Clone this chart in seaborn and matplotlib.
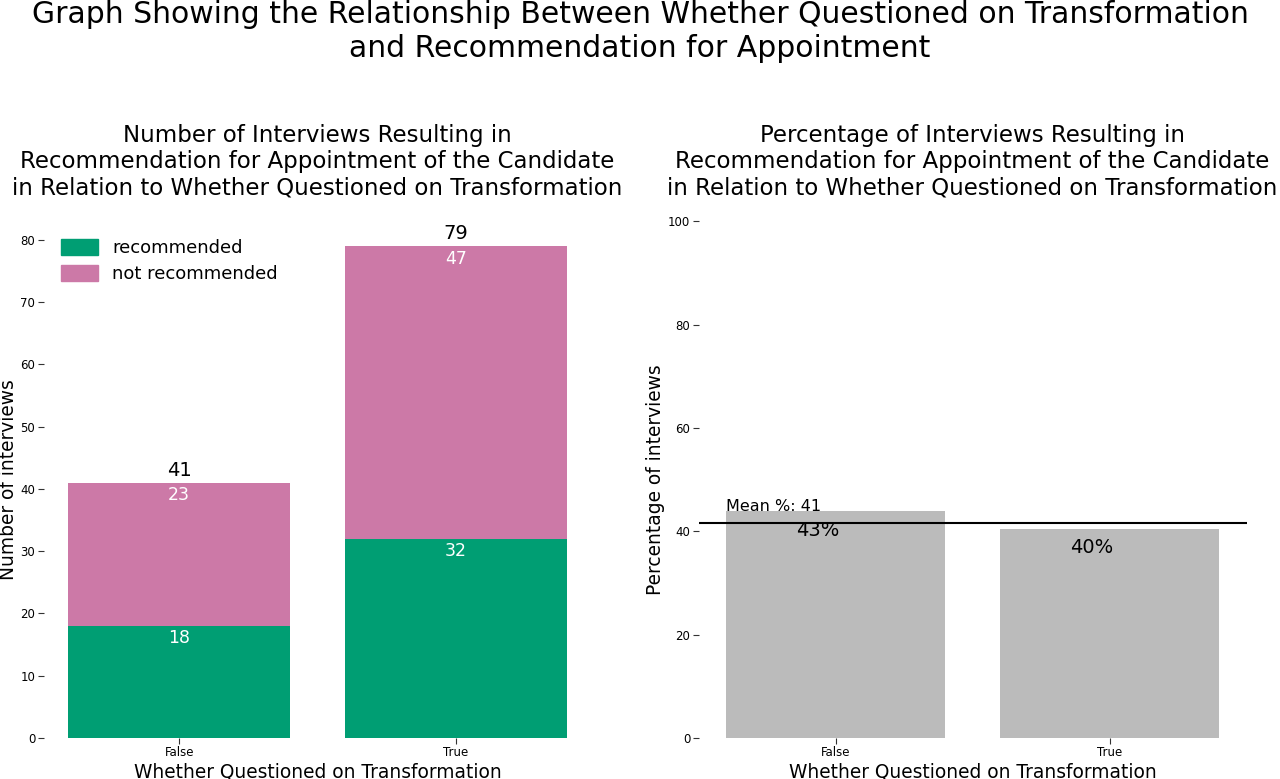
import numpy as np
import pandas as pd
import seaborn as sns
import matplotlib.pyplot as plt
from matplotlib.patches import Patch

categories = ["False", "True"]
recommended = [18, 32]
not_recommended = [23, 47]

GREEN = "#009E73"
PINK = "#CC79A7"
GREY = "#BBBBBB"

totals = [r + n for r, n in zip(recommended, not_recommended)]
pct = [100.0 * r / t for r, t in zip(recommended, totals)]
mean_pct = 100.0 * sum(recommended) / sum(totals)

df = pd.DataFrame({"questioned": categories, "recommended": recommended,
                   "total": totals, "pct": pct})

sns.set_style("white")
plt.rcParams["font.family"] = ["DejaVu Sans"]
plt.rcParams["text.color"] = "black"
plt.rcParams["axes.labelcolor"] = "black"
plt.rcParams["xtick.color"] = "black"
plt.rcParams["ytick.color"] = "black"

fig, (ax1, ax2) = plt.subplots(1, 2, figsize=(12.8, 7.79), dpi=100)
fig.subplots_adjust(left=0.034, right=0.974, bottom=0.0526, top=0.716, wspace=0.195)

# left: stacked counts
sns.barplot(data=df, x="questioned", y="total", color=PINK, saturation=1, linewidth=0, ax=ax1)
sns.barplot(data=df, x="questioned", y="recommended", color=GREEN, saturation=1, linewidth=0, ax=ax1)
for i, (r, n, t) in enumerate(zip(recommended, not_recommended, totals)):
    ax1.text(i, t + 2, str(t), ha="center", va="center", fontsize=14)
    ax1.text(i, t - 2, str(n), ha="center", va="center", fontsize=12.5, color="white")
    ax1.text(i, r - 2, str(r), ha="center", va="center", fontsize=12.5, color="white")
ax1.set_ylim(0, 83)
ax1.set_xlim(-0.49, 1.49)
ax1.legend(handles=[Patch(color=GREEN, label="recommended"),
                    Patch(color=PINK, label="not recommended")],
           loc="upper left", frameon=False, fontsize=13, bbox_to_anchor=(0.003, 0.998),
           handleheight=1.0, labelspacing=0.45)
ax1.set_title("Number of Interviews Resulting in\nRecommendation for Appointment of the Candidate\n"
              "in Relation to Whether Questioned on Transformation", fontsize=16.5, pad=19)
ax1.set_xlabel("Whether Questioned on Transformation", fontsize=13.4, labelpad=2)
ax1.set_ylabel("Number of interviews", fontsize=13.4, labelpad=2)

# right: percentage
sns.barplot(data=df, x="questioned", y="pct", color=GREY, saturation=1, linewidth=0, ax=ax2)
for i, p in enumerate(pct):
    ax2.text(i - 0.065, p - 3.7, f"{int(p)}%", ha="center", va="center", fontsize=14)
ax2.axhline(mean_pct, color="black", linewidth=1.5)
ax2.text(-0.4, mean_pct + 1.6, f"Mean %: {int(mean_pct)}", ha="left", va="bottom", fontsize=11.5)
ax2.set_ylim(0, 100)
ax2.set_xlim(-0.5, 1.5)
ax2.set_yticks([0, 20, 40, 60, 80, 100])
ax2.set_title("Percentage of Interviews Resulting in\nRecommendation for Appointment of the Candidate\n"
              "in Relation to Whether Questioned on Transformation", fontsize=16.5, pad=19)
ax2.set_xlabel("Whether Questioned on Transformation", fontsize=13.4, labelpad=2)
ax2.set_ylabel("Percentage of interviews", fontsize=13.4, labelpad=2)

for ax in (ax1, ax2):
    sns.despine(ax=ax, left=True, bottom=True)
    ax.tick_params(axis="both", which="both", left=True, bottom=True, length=4,
                   width=0.8, color="#333333", labelsize=8.5, pad=2)

fig.suptitle("Graph Showing the Relationship Between Whether Questioned on Transformation\n"
             "and Recommendation for Appointment", fontsize=21.5, y=1.0)

fig.savefig("out.png", dpi=100)
